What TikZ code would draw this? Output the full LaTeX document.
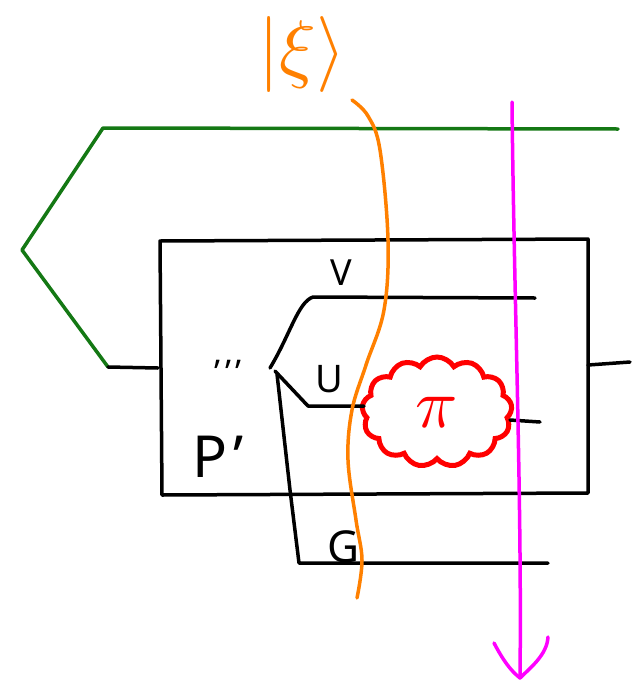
\documentclass[tikz,border=0pt]{standalone}
\usetikzlibrary{shapes.symbols}
\usepackage{fontspec}
\usepackage{graphicx}
\setsansfont{Noto Sans}
\definecolor{pgreen}{RGB}{20,120,20}
\definecolor{porange}{RGB}{255,128,0}
\definecolor{pmagenta}{RGB}{255,0,255}
\definecolor{pred}{RGB}{255,0,0}
\begin{document}
\begin{tikzpicture}[x=1pt,y=-1pt,
  wire/.style={line width=3.5pt,line cap=round,line join=round},
  lbl/.style={font=\sffamily\fontsize{#1}{#1}\selectfont,inner sep=0pt},
  lbl/.default=36]
\useasboundingbox (0,0) rectangle (633,683);
% ket label
\node[inner sep=0pt, text=porange] (ket) at (302,54) {\scalebox{7.6}{$|\xi\rangle$}};
% green wire
\coordinate (g1) at (618,129);
\coordinate (g2) at (103,128);
\coordinate (g3) at (22,250);
\coordinate (g4) at (108,367);
\draw[wire, pgreen] (g1) -- (g2) -- (g3) -- (g4);
% box
\coordinate (b1) at (160,241);
\coordinate (b2) at (588,239);
\coordinate (b3) at (588,493);
\coordinate (b4) at (162,495);
\draw[wire] (b1) -- (b2) -- (b3) -- (b4) -- cycle;
\coordinate (ls) at (158,368);
\draw[wire] (g4) -- (ls);
\coordinate (rs1) at (588,365);
\coordinate (rs2) at (630,362);
\draw[wire] (rs1) -- (rs2);
% cloud
\node[cloud, draw=pred, line width=5pt, cloud puffs=13, cloud puff arc=120, aspect=1.4,
      minimum width=150, minimum height=110, inner sep=0pt, text=pred] (pi) at (437,412) {\scalebox{7}{$\pi$}};
% inner wires
\coordinate (j) at (270,368);
\coordinate (v1) at (313,297);
\coordinate (v2) at (535,298);
\draw[wire] (j) .. controls (290,335) and (298,302) .. (v1) -- (v2);
\coordinate (u0) at (275,371);
\coordinate (u1) at (308,406);
\coordinate (u2) at (364,406);
\draw[wire] (u0) -- (u1) -- (u2);
\coordinate (r1) at (510,420);
\coordinate (r2) at (540,422);
\draw[wire] (r1) -- (r2);
\coordinate (gg0) at (277,374);
\coordinate (gg1) at (290,490);
\coordinate (gg2) at (299,563);
\coordinate (gg3) at (548,563);
\draw[wire] (gg0) -- (gg1) -- (gg2) -- (gg3);
% labels
\node[lbl=36] (V) at (341,273) {V};
\node[lbl=38] (U) at (329,379) {U};
\node[lbl=44] (G) at (344,547) {G};
\node[lbl=58] (P) at (218,457) {P\hspace{6pt}'};
\node[lbl=34] (dots) at (228,372) {'\hspace{5pt}'\hspace{5pt}'};
% orange curve
\draw[wire, porange] plot[smooth, tension=0.6] coordinates {(352,100) (368,116) (380,150) (388,240) (384,310) (366,365) (352,410) (348,460) (356,520) (362,560) (357,598)};
% magenta arrow
\coordinate (m0) at (512,102);
\coordinate (m1) at (520,678);
\draw[wire, pmagenta] (m0) .. controls (514,300) and (522,500) .. (m1);
\coordinate (ma1) at (494,643);
\coordinate (ma2) at (548,637);
\draw[wire, pmagenta] (ma1) .. controls (503,660) and (510,670) .. (m1) .. controls (530,668) and (547,655) .. (ma2);
\end{tikzpicture}
\end{document}
